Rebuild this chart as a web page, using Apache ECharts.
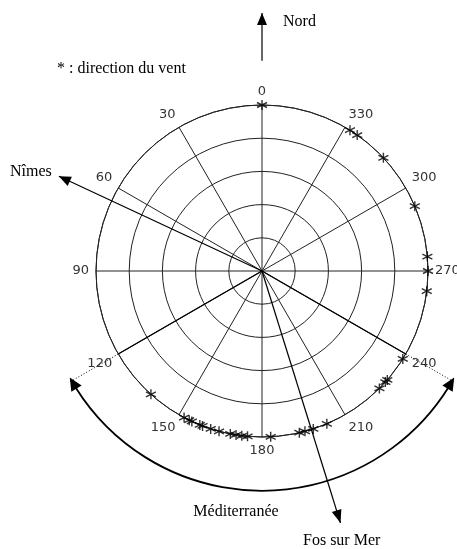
<!DOCTYPE html>
<html>
<head>
<meta charset="utf-8">
<script src="https://cdn.jsdelivr.net/npm/echarts@6/dist/echarts.min.js"></script>
<style>
  html, body { margin: 0; padding: 0; background: #fff; }
  #main { width: 457px; height: 549px; }
</style>
</head>
<body>
<div id="main"></div>
<script>
// directions du vent relevées (degrés, 0 = nord, sens inverse des aiguilles)
var windDirs = [0, 328, 325, 313, 293, 275, 270, 263, 238, 229, 228, 225,
  203, 198, 195, 193, 183, 175, 173, 171, 169, 165, 162, 159, 158, 155, 154, 152, 138];
var ringMax = 5;          // cercles 1..5, les points sont sur le cercle extérieur
var angleStep = 30;       // rayons tous les 30°
// repères (angle, rayon en unités de cercle)
var nimesDir = 65, nimesLen = 6.75;
var fosDir = 197.3, fosLen = 7.95;
var nordFrom = 6.33, nordTo = 7.77;
var seaFrom = 120, seaTo = 240, seaRadius = 6.62;

var serif = '"Liberation Serif", "Times New Roman", serif';

var chart = echarts.init(document.getElementById('main'));

var windData = windDirs.map(function (a) { return [ringMax, a]; });

// astérisque : barre verticale + X
var starPath = 'path://M0,-1L0,1M-0.87,-0.5L0.87,0.5M-0.87,0.5L0.87,-0.5';

var option = {
  animation: false,
  backgroundColor: '#fff',
  polar: { center: [262, 271], radius: 166 },
  angleAxis: {
    type: 'value',
    min: 0,
    max: 360,
    interval: angleStep,
    startAngle: 90,
    clockwise: false,
    axisLine: { lineStyle: { color: '#222', width: 1 } },
    axisTick: { show: false },
    axisLabel: {
      margin: 7,
      color: '#333',
      fontFamily: '"DejaVu Sans", sans-serif',
      fontSize: 13,
      formatter: function (v) { return v === 360 ? '' : String(v); }
    },
    splitLine: { show: true, lineStyle: { color: '#222', width: 1 } }
  },
  radiusAxis: {
    type: 'value',
    min: 0,
    max: ringMax,
    interval: 1,
    axisLine: { show: false },
    axisTick: { show: false },
    axisLabel: { show: false },
    splitLine: { show: true, lineStyle: { color: '#222', width: 1 } }
  },
  series: [{
    type: 'scatter',
    coordinateSystem: 'polar',
    data: windData,
    symbol: starPath,
    symbolSize: 10,
    itemStyle: { color: 'none', borderColor: '#000', borderWidth: 1.4 },
    z: 5
  }]
};
chart.setOption(option);

function pt(r, a) { return chart.convertToPixel({ polarIndex: 0 }, [r, a]); }

function arrowHead(tip, from, len, half) {
  var dx = tip[0] - from[0], dy = tip[1] - from[1];
  var d = Math.sqrt(dx * dx + dy * dy);
  var ux = dx / d, uy = dy / d;
  var bx = tip[0] - ux * len, by = tip[1] - uy * len;
  return {
    type: 'polygon',
    shape: { points: [tip, [bx - uy * half, by + ux * half], [bx + uy * half, by - ux * half]] },
    style: { fill: '#000' },
    z: 10
  };
}

function line(p1, p2, extra) {
  return {
    type: 'line',
    shape: { x1: p1[0], y1: p1[1], x2: p2[0], y2: p2[1] },
    style: Object.assign({ stroke: '#000', lineWidth: 1.2 }, extra || {}),
    z: 9
  };
}

function label(txt, x, y, align) {
  return {
    type: 'text',
    x: x, y: y,
    style: { text: txt, fill: '#000', font: '16px ' + serif, align: align || 'left', verticalAlign: 'middle' },
    z: 10
  };
}

var c = pt(0, 0);
var g = [];

// Nord
var n1 = pt(nordFrom, 0), n2 = pt(nordTo, 0);
g.push(line(n1, n2));
g.push(arrowHead(n2, n1, 12, 5));

// Nîmes
var ni = pt(nimesLen, nimesDir);
g.push(line(c, ni));
g.push(arrowHead(ni, c, 12, 5));

// Fos sur Mer
var fo = pt(fosLen, fosDir);
g.push(line(c, fo));
g.push(arrowHead(fo, c, 13, 5));

// secteur Méditerranée : rayons 120 / 240 prolongés en pointillés
[seaFrom, seaTo].forEach(function (a) {
  g.push(line(c, pt(ringMax, a), { lineWidth: 1.3 }));
  g.push(line(pt(ringMax, a), pt(seaRadius + 0.1, a), { lineDash: [1, 2], lineWidth: 1 }));
});

// arc à double flèche
var rPx = seaRadius / ringMax * 166;
var toScreen = function (a) { return (-90 - a) * Math.PI / 180; };
g.push({
  type: 'arc',
  shape: { cx: c[0], cy: c[1], r: rPx, startAngle: toScreen(seaTo - 2), endAngle: toScreen(seaFrom + 2), clockwise: true },
  style: { stroke: '#000', lineWidth: 1.8, fill: null },
  z: 9
});
var e1 = pt(seaRadius, seaFrom - 1), e1b = pt(seaRadius, seaFrom + 3);
g.push(arrowHead(e1, e1b, 13, 6));
var e2 = pt(seaRadius, seaTo + 1), e2b = pt(seaRadius, seaTo - 3);
g.push(arrowHead(e2, e2b, 13, 6));

// textes
g.push(label('Nord', 283, 22));
g.push(label('* : direction du vent', 57, 69));
g.push(label('Nîmes', 10, 172));
g.push(label('Méditerranée', 236, 512, 'center'));
g.push(label('Fos sur Mer', 303, 541));

chart.setOption({ graphic: g });
</script>
</body>
</html>
